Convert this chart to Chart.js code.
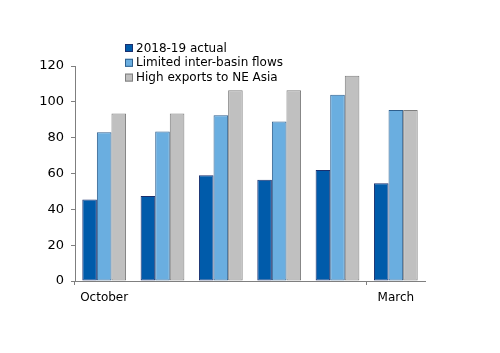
<!DOCTYPE html>
<html>
<head>
<meta charset="utf-8">
<script src="https://cdn.jsdelivr.net/npm/chart.js@4"></script>
<style>
  html, body { margin: 0; padding: 0; background: #ffffff; }
  #wrap { width: 500px; height: 353px; position: relative; }
</style>
</head>
<body>
<div id="wrap"><canvas id="c" width="500" height="353"></canvas></div>
<script>
const categories = ['October', '', '', '', '', 'March'];
const seriesNames = ['2018-19 actual', 'Limited inter-basin flows', 'High exports to NE Asia'];
const actual = [45.5, 47.5, 59, 56.5, 62, 54.5];
const limitedFlows = [83, 83.5, 92.5, 89, 104, 95.5];
const highExports = [93.5, 93.5, 106.5, 106.5, 114.5, 95.5];
const yTicks = [0, 20, 40, 60, 80, 100, 120];

const fills = ['#005BAA', '#6AAEE0', '#C0C0C0'];
const borders = ['#1A2F6E', '#2E5F8E', '#7F7F7F'];
const axisColor = '#7F7F7F';
const FONT = 'DejaVu Sans';

const legendPlugin = {
  id: 'customLegend',
  afterDraw(chart) {
    const ctx = chart.ctx;
    ctx.save();
    ctx.font = '12px "' + FONT + '"';
    ctx.textBaseline = 'middle';
    chart.data.datasets.forEach((ds, i) => {
      const y = 48 + i * 14.8;
      ctx.fillStyle = ds.backgroundColor;
      ctx.fillRect(125, y - 4, 8, 8);
      ctx.strokeStyle = ds.borderColor;
      ctx.lineWidth = 1;
      ctx.strokeRect(125.5, y - 3.5, 7, 7);
      ctx.fillStyle = '#000000';
      ctx.fillText(ds.label, 136, y + 0.5);
    });
    ctx.restore();
  }
};

new Chart(document.getElementById('c'), {
  type: 'bar',
  data: {
    labels: categories,
    datasets: [
      { label: seriesNames[0], data: actual, backgroundColor: fills[0], borderColor: borders[0], borderWidth: 1, borderSkipped: false },
      { label: seriesNames[1], data: limitedFlows, backgroundColor: fills[1], borderColor: borders[1], borderWidth: 1, borderSkipped: false },
      { label: seriesNames[2], data: highExports, backgroundColor: fills[2], borderColor: borders[2], borderWidth: 1, borderSkipped: false }
    ]
  },
  options: {
    responsive: false,
    animation: false,
    devicePixelRatio: 1,
    layout: { padding: { left: 0, right: 75, top: 66, bottom: 0 } },
    plugins: { legend: { display: false }, tooltip: { enabled: false } },
    datasets: { bar: { categoryPercentage: 0.75, barPercentage: 1 } },
    scales: {
      x: {
        afterFit(scale) { scale.height = 72; },
        grid: {
          offset: true,
          drawOnChartArea: false,
          tickLength: 4,
          color: (c) => (c.index === 0 || c.index === 5) ? axisColor : 'rgba(0,0,0,0)'
        },
        border: { color: axisColor, width: 1 },
        ticks: {
          autoSkip: false,
          maxRotation: 0,
          padding: 6,
          color: '#000000',
          font: { family: FONT, size: 12 }
        }
      },
      y: {
        min: 0,
        max: 120,
        afterFit(scale) { scale.width = 75; },
        afterBuildTicks(scale) { scale.ticks = yTicks.map(v => ({ value: v })); },
        grid: { drawOnChartArea: false, tickLength: 4, color: axisColor },
        border: { color: axisColor, width: 1 },
        ticks: {
          padding: 7,
          color: '#000000',
          font: { family: FONT, size: 13 }
        }
      }
    }
  },
  plugins: [legendPlugin]
});
</script>
</body>
</html>
